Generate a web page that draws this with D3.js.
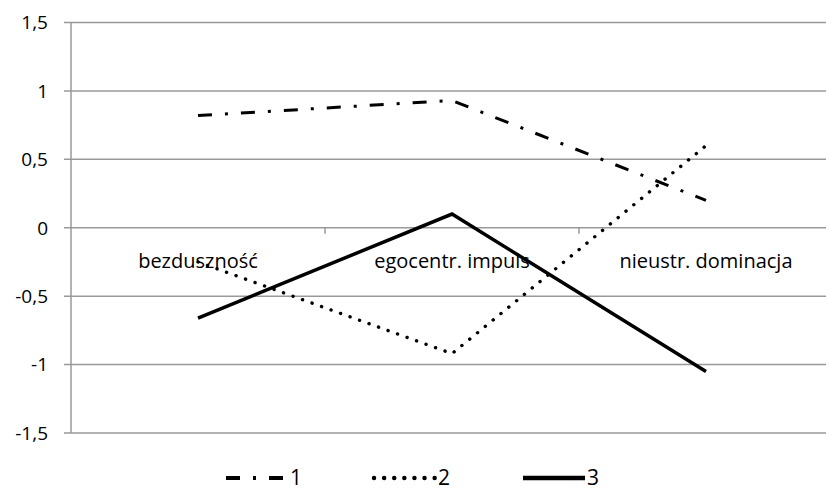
<!DOCTYPE html>
<html><head><meta charset="utf-8">
<script src="https://cdn.jsdelivr.net/npm/d3@7"></script>
<style>body{margin:0;background:#fff}svg{display:block}text{font-family:"Open Sans",sans-serif;fill:#000}</style>
</head><body><svg id="c" width="826" height="492"></svg>
<script>
const categories = ["bezduszność", "egocentr. impuls", "nieustr. dominacja"];
const seriesNames = ["1", "2", "3"];
const series1 = [0.82, 0.93, 0.2];
const series2 = [-0.25, -0.92, 0.6];
const series3 = [-0.66, 0.1, -1.05];
const yTicks = [1.5, 1, 0.5, 0, -0.5, -1, -1.5];

(function () {
const allSeries = [series1, series2, series3];
const styles = [
  {dash: "14,13,3,13", cap: "butt", w: 3},
  {dash: "0.1,10", cap: "round", w: 3.4},
  {dash: null, cap: "butt", w: 3.5}
];

const svg = d3.select("#c");
const pLeft = 71, pRight = 833, pTop = 22.5, pBottom = 433;
const x = d3.scaleBand().domain(categories).range([pLeft, pRight]).padding(0);
const y = d3.scaleLinear().domain([-1.5, 1.5]).range([pBottom, pTop]);
const fmt = d => String(d).replace(".", ",");

svg.append("g").selectAll("line").data(yTicks).join("line")
  .attr("x1", pLeft - 7).attr("x2", 826)
  .attr("y1", d => y(d)).attr("y2", d => y(d))
  .attr("stroke", "#999").attr("stroke-width", 1.5);
svg.append("line").attr("x1", pLeft).attr("x2", pLeft).attr("y1", pTop).attr("y2", pBottom)
  .attr("stroke", "#999").attr("stroke-width", 1.5);
svg.append("g").selectAll("text").data(yTicks).join("text")
  .attr("x", 48).attr("y", d => y(d)).attr("dy", "0.36em")
  .attr("text-anchor", "end").attr("font-size", 19).text(fmt);
svg.append("g").selectAll("line").data(categories.slice(1)).join("line")
  .attr("x1", d => x(d)).attr("x2", d => x(d))
  .attr("y1", y(0)).attr("y2", y(0) + 6)
  .attr("stroke", "#999").attr("stroke-width", 1.5);

const line = d3.line().x((d, i) => x(categories[i]) + x.bandwidth() / 2).y(d => y(d));

svg.append("g").selectAll("text").data(categories).join("text")
  .attr("x", d => x(d) + x.bandwidth() / 2).attr("y", y(0) + 40)
  .attr("text-anchor", "middle").attr("font-size", 20).text(d => d);

allSeries.forEach((s, k) => {
  const p = svg.append("path").attr("d", line(s)).attr("fill", "none")
    .attr("stroke", "#000").attr("stroke-width", styles[k].w)
    .attr("stroke-linecap", styles[k].cap).attr("stroke-linejoin", "miter");
  if (styles[k].dash) p.attr("stroke-dasharray", styles[k].dash);
});

const legX = [226, 374, 523];
seriesNames.forEach((n, k) => {
  const ly = 478;
  const l = svg.append("line").attr("x1", legX[k]).attr("x2", legX[k] + 62)
    .attr("y1", ly).attr("y2", ly).attr("stroke", "#000")
    .attr("stroke-width", styles[k].w + 1).attr("stroke-linecap", styles[k].cap);
  if (styles[k].dash) l.attr("stroke-dasharray", styles[k].dash);
  svg.append("text").attr("x", legX[k] + 64).attr("y", 485)
    .attr("font-size", 21).text(n);
});
})();
</script></body></html>
